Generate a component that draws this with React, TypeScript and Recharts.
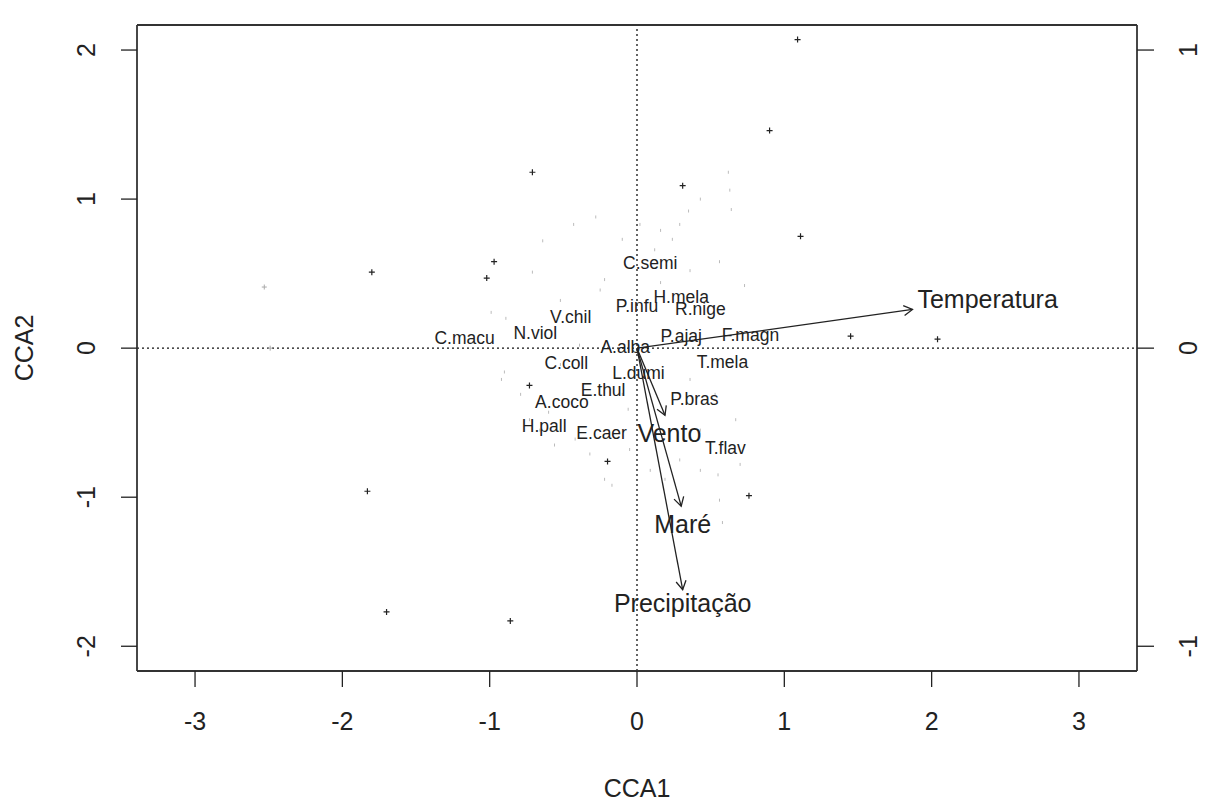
import React from "react";
import { ScatterChart, Scatter, XAxis, YAxis, ReferenceLine, Label } from "recharts";

// axis ticks (site scale on bottom/left, species scale on top/right)
const xTicks = [-3, -2, -1, 0, 1, 2, 3];
const yTicks = [-2, -1, 0, 1, 2];
const topTicks = [-1, 0, 1];
const rightTicks = [-1, 0, 1];

// species labels
const species = [
  { name: "C.semi", x: 0.09, y: 0.57 },
  { name: "H.mela", x: 0.3, y: 0.34 },
  { name: "P.infu", x: 0.0, y: 0.28 },
  { name: "R.nige", x: 0.43, y: 0.26 },
  { name: "V.chil", x: -0.45, y: 0.21 },
  { name: "N.viol", x: -0.69, y: 0.1 },
  { name: "C.macu", x: -1.17, y: 0.07 },
  { name: "P.ajaj", x: 0.3, y: 0.08 },
  { name: "F.magn", x: 0.77, y: 0.09 },
  { name: "A.alba", x: -0.08, y: 0.01 },
  { name: "T.mela", x: 0.58, y: -0.09 },
  { name: "C.coll", x: -0.48, y: -0.1 },
  { name: "L.dumi", x: 0.01, y: -0.17 },
  { name: "E.thul", x: -0.23, y: -0.28 },
  { name: "A.coco", x: -0.51, y: -0.36 },
  { name: "P.bras", x: 0.39, y: -0.34 },
  { name: "H.pall", x: -0.63, y: -0.52 },
  { name: "E.caer", x: -0.24, y: -0.57 },
  { name: "T.flav", x: 0.6, y: -0.67 },
];

// site scores (crosses)
const sites = [
  { x: 1.09, y: 2.07 }, { x: 0.9, y: 1.46 }, { x: -0.71, y: 1.18 },
  { x: 0.31, y: 1.09 }, { x: 1.11, y: 0.75 }, { x: -0.97, y: 0.58 },
  { x: -1.02, y: 0.47 }, { x: -1.8, y: 0.51 }, { x: 1.45, y: 0.08 },
  { x: 2.04, y: 0.06 }, { x: -0.73, y: -0.25 }, { x: -0.2, y: -0.76 },
  { x: 0.76, y: -0.99 }, { x: -1.83, y: -0.96 }, { x: -1.7, y: -1.77 },
  { x: -0.86, y: -1.83 },
];

// faint crosses near the left edge
const faintSites = [
  { x: -2.53, y: 0.41 }, { x: -2.49, y: 0.0 },
];

// small grey marks
const minor = [
  { x: 0.62, y: 1.18 }, { x: 0.63, y: 1.06 }, { x: 0.64, y: 0.93 },
  { x: 0.43, y: 1.0 }, { x: 0.35, y: 0.92 }, { x: 0.29, y: 0.83 },
  { x: 0.24, y: 0.73 }, { x: 0.16, y: 0.79 }, { x: 0.12, y: 0.66 },
  { x: 0.02, y: 0.83 }, { x: -0.1, y: 0.73 }, { x: -0.28, y: 0.88 },
  { x: -0.43, y: 0.83 }, { x: -0.64, y: 0.72 }, { x: -0.71, y: 0.51 },
  { x: -0.22, y: 0.46 }, { x: 0.16, y: 0.44 }, { x: 0.36, y: 0.52 },
  { x: 0.56, y: 0.58 }, { x: 0.73, y: 0.42 }, { x: -0.99, y: 0.24 },
  { x: -0.89, y: 0.2 }, { x: -0.52, y: 0.32 }, { x: -0.25, y: 0.39 },
  { x: -0.9, y: -0.16 }, { x: -0.92, y: -0.21 }, { x: -0.79, y: -0.31 },
  { x: -0.6, y: -0.43 }, { x: -0.66, y: -0.55 }, { x: -0.56, y: -0.65 },
  { x: -0.42, y: -0.61 }, { x: -0.32, y: -0.71 }, { x: -0.17, y: -0.92 },
  { x: -0.05, y: -0.68 }, { x: 0.09, y: -0.82 }, { x: 0.19, y: -0.88 },
  { x: 0.29, y: -0.75 }, { x: 0.43, y: -0.82 }, { x: 0.55, y: -0.85 },
  { x: 0.7, y: -0.78 }, { x: 0.56, y: -1.02 }, { x: 0.67, y: -0.48 },
  { x: 0.53, y: -0.31 }, { x: 0.36, y: -0.21 }, { x: 0.43, y: -0.55 },
  { x: -0.52, y: -0.11 }, { x: -0.39, y: 0.02 }, { x: -0.1, y: -0.31 },
  { x: -0.06, y: -0.41 }, { x: -0.73, y: -0.48 }, { x: 0.58, y: -1.17 },
  { x: -0.22, y: -0.88 },
];

// environmental vectors: tips and label positions
const envNames = ["Temperatura", "Vento", "Maré", "Precipitação"];
const envTipX = [1.87, 0.19, 0.3, 0.31];
const envTipY = [0.26, -0.45, -1.06, -1.62];
const envLabelX = [2.38, 0.22, 0.31, 0.31];
const envLabelY = [0.33, -0.57, -1.18, -1.71];

const envLabels = envNames.map((name, i) => ({ name, x: envLabelX[i], y: envLabelY[i] }));

const FONT = "'Liberation Sans', Arial, sans-serif";
const INK = "#222";

const BottomTick = ({ x, y, payload }: any) => (
  <text x={x} y={y + 32} textAnchor="middle" dominantBaseline="central" fontSize={25} fontFamily={FONT} fill={INK}>
    {String(payload.value)}
  </text>
);

const SideTick = (shift: number) => ({ x, y, payload }: any) => (
  <text
    x={x + shift}
    y={y}
    transform={`rotate(-90, ${x + shift}, ${y})`}
    textAnchor="middle"
    dominantBaseline="central"
    fontSize={25}
    fontFamily={FONT}
    fill={INK}
  >
    {String(payload.value)}
  </text>
);

const NoTick = () => <g />;

const Cross = ({ cx, cy }: any) => (
  <path d={`M${cx - 3},${cy}H${cx + 3}M${cx},${cy - 3}V${cy + 3}`} stroke={INK} strokeWidth={1.2} />
);

const FaintCross = ({ cx, cy }: any) => (
  <path d={`M${cx - 2.5},${cy}H${cx + 2.5}M${cx},${cy - 2.5}V${cy + 2.5}`} stroke="#aaa" strokeWidth={1} />
);

const Speck = ({ cx, cy }: any) => (
  <line x1={cx} y1={cy - 1.5} x2={cx} y2={cy + 1.5} stroke="#bbb" strokeWidth={1} />
);

const SpeciesText = ({ cx, cy, payload }: any) => (
  <text x={cx} y={cy} textAnchor="middle" dominantBaseline="central" fontSize={17.5} fontFamily={FONT} fill={INK}>
    {payload.name}
  </text>
);

const EnvText = ({ cx, cy, payload }: any) => (
  <text x={cx} y={cy} textAnchor="middle" dominantBaseline="central" fontSize={25} fontFamily={FONT} fill={INK}>
    {payload.name}
  </text>
);

const Arrow = ({ x1, y1, x2, y2 }: any) => {
  const a = Math.atan2(y2 - y1, x2 - x1);
  const len = 10;
  const w = Math.PI / 6;
  const ax = x2 - len * Math.cos(a - w);
  const ay = y2 - len * Math.sin(a - w);
  const bx = x2 - len * Math.cos(a + w);
  const by = y2 - len * Math.sin(a + w);
  return (
    <g>
      <line x1={x1} y1={y1} x2={x2} y2={y2} stroke={INK} strokeWidth={1.3} />
      <path d={`M${ax},${ay}L${x2},${y2}L${bx},${by}`} fill="none" stroke={INK} strokeWidth={1.3} />
    </g>
  );
};

const axisLine = { stroke: "#333", strokeWidth: 1.8 };
const tickLine = { stroke: INK, strokeWidth: 1.3 };

export default function App() {
  return (
    <div style={{ position: "absolute", left: 0, top: 0, width: 1205, height: 803, background: "#fff" }}>
      <ScatterChart width={1205} height={803} margin={{ top: 0, right: 0, bottom: 0, left: 0 }}>
        <XAxis
          xAxisId="main"
          dataKey="x"
          type="number"
          domain={[-3.394, 3.394]}
          ticks={xTicks}
          allowDataOverflow
          height={132}
          tickSize={16}
          axisLine={axisLine}
          tickLine={tickLine}
          tick={BottomTick}
        >
          <Label
            content={({ viewBox }: any) => (
              <text
                x={viewBox.x + viewBox.width / 2}
                y={viewBox.y + 117}
                textAnchor="middle"
                dominantBaseline="central"
                fontSize={25}
                fontFamily={FONT}
                fill={INK}
              >
                CCA1
              </text>
            )}
          />
        </XAxis>
        <XAxis
          xAxisId="top"
          orientation="top"
          type="number"
          domain={[-1.697, 1.697]}
          ticks={topTicks}
          allowDataOverflow
          height={25}
          tickSize={16}
          axisLine={axisLine}
          tickLine={tickLine}
          tick={NoTick}
        />
        <YAxis
          yAxisId="main"
          dataKey="y"
          type="number"
          domain={[-2.166, 2.168]}
          ticks={yTicks}
          allowDataOverflow
          width={137}
          tickSize={16}
          axisLine={axisLine}
          tickLine={tickLine}
          tick={SideTick(-33)}
        >
          <Label
            content={({ viewBox }: any) => {
              const cy = viewBox.y + viewBox.height / 2;
              return (
                <text
                  x={24}
                  y={cy}
                  transform={`rotate(-90, 24, ${cy})`}
                  textAnchor="middle"
                  dominantBaseline="central"
                  fontSize={25}
                  fontFamily={FONT}
                  fill={INK}
                >
                  CCA2
                </text>
              );
            }}
          />
        </YAxis>
        <YAxis
          yAxisId="right"
          orientation="right"
          type="number"
          domain={[-1.083, 1.084]}
          ticks={rightTicks}
          allowDataOverflow
          width={68}
          tickSize={17}
          axisLine={axisLine}
          tickLine={tickLine}
          tick={SideTick(32)}
        />

        <ReferenceLine xAxisId="main" yAxisId="main" x={0} stroke="#111" strokeWidth={1.3} strokeDasharray="2 3" />
        <ReferenceLine xAxisId="main" yAxisId="main" y={0} stroke="#111" strokeWidth={1.3} strokeDasharray="2 3" />

        <Scatter xAxisId="main" yAxisId="main" data={minor} shape={Speck} isAnimationActive={false} />
        <Scatter xAxisId="main" yAxisId="main" data={faintSites} shape={FaintCross} isAnimationActive={false} />
        <Scatter xAxisId="main" yAxisId="main" data={sites} shape={Cross} isAnimationActive={false} />
        <Scatter xAxisId="main" yAxisId="main" data={species} shape={SpeciesText} isAnimationActive={false} />
        <Scatter xAxisId="main" yAxisId="main" data={envLabels} shape={EnvText} isAnimationActive={false} />

        {envNames.map((n, i) => (
          <ReferenceLine
            key={n}
            xAxisId="main"
            yAxisId="main"
            segment={[{ x: 0, y: 0 }, { x: envTipX[i], y: envTipY[i] }]}
            shape={Arrow}
            ifOverflow="visible"
          />
        ))}
      </ScatterChart>
    </div>
  );
}
